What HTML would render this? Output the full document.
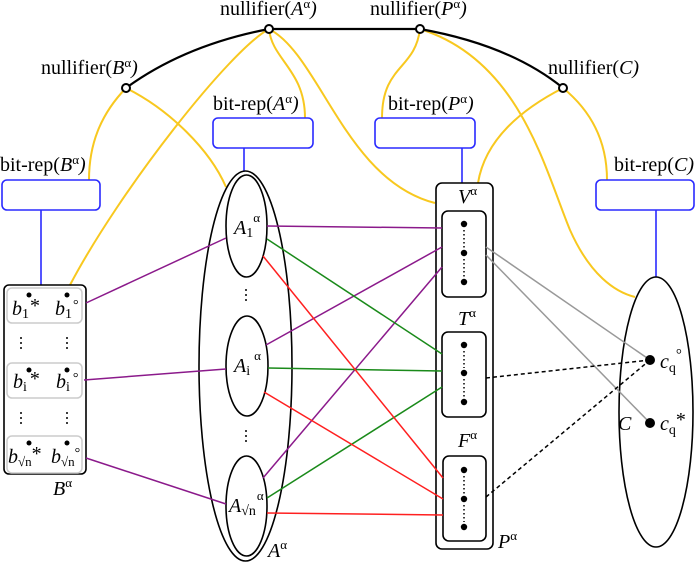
<!DOCTYPE html>
<html><head><meta charset="utf-8"><style>
html,body{margin:0;padding:0;background:#fff;}
svg{display:block;}
text{font-family:"Liberation Serif",serif;font-size:20px;fill:#000;}
.i{font-style:italic;}
</style></head><body>
<svg width="696" height="562" viewBox="0 0 696 562" xmlns="http://www.w3.org/2000/svg">
<!-- yellow curves -->
<g fill="none" stroke="#f8c81f" stroke-width="2">
<path d="M126,88 C100,115 89,145 89,180"/>
<path d="M126,88 C170,110 210,150 226,187"/>
<path d="M269,29 C230,50 120,190 70,285"/>
<path d="M269,29 C272,60 305,70 305,118"/>
<path d="M269,29 C320,55 345,180 435,203"/>
<path d="M420,29 C415,70 382,65 382,118"/>
<path d="M420,29 C520,60 545,170 570,230 C590,275 615,292 635,297"/>
<path d="M563,88 C590,110 607,140 607,180"/>
<path d="M563,88 C520,110 485,140 478,183"/>
</g>
<!-- black top arcs -->
<g fill="none" stroke="#000" stroke-width="2.2">
<path d="M126,88 Q185,45 269,29"/>
<path d="M269,29 L420,29"/>
<path d="M420,29 Q510,45 563,88"/>
</g>
<g fill="#fff" stroke="#000" stroke-width="2">
<circle cx="126" cy="88" r="4"/>
<circle cx="269" cy="29" r="4"/>
<circle cx="420" cy="29" r="4"/>
<circle cx="563" cy="88" r="4"/>
</g>
<!-- top labels -->
<text x="220" y="15">nullifier(<tspan class="i">A</tspan><tspan font-size="13" dy="-7">α</tspan><tspan dy="7" class="i">)</tspan></text>
<text x="41" y="74">nullifier(<tspan class="i">B</tspan><tspan font-size="13" dy="-7">α</tspan><tspan dy="7" class="i">)</tspan></text>
<text x="370" y="15">nullifier(<tspan class="i">P</tspan><tspan font-size="13" dy="-7">α</tspan><tspan dy="7" class="i">)</tspan></text>
<text x="548" y="74">nullifier(<tspan class="i">C)</tspan></text>
<text x="213" y="110">bit-rep(<tspan class="i">A</tspan><tspan font-size="13" dy="-7">α</tspan><tspan dy="7" class="i">)</tspan></text>
<text x="388" y="110">bit-rep(<tspan class="i">P</tspan><tspan font-size="13" dy="-7">α</tspan><tspan dy="7" class="i">)</tspan></text>
<text x="0" y="171">bit-rep(<tspan class="i">B</tspan><tspan font-size="13" dy="-7">α</tspan><tspan dy="7" class="i">)</tspan></text>
<text x="614" y="171">bit-rep(<tspan class="i">C)</tspan></text>
<!-- blue boxes -->
<g fill="#fff" stroke="#2a2aff" stroke-width="1.6">
<rect x="213" y="118" width="100" height="30" rx="5"/>
<rect x="375" y="118" width="100" height="30" rx="5"/>
<rect x="2" y="180" width="98" height="30" rx="5"/>
<rect x="596" y="180" width="98" height="30" rx="5"/>
</g>
<g stroke="#2a2aff" stroke-width="1.6">
<line x1="244" y1="148" x2="244" y2="171"/>
<line x1="462" y1="148" x2="462" y2="183"/>
<line x1="41" y1="210" x2="41" y2="285"/>
<line x1="656" y1="210" x2="656" y2="277"/>
</g>
<!-- A alpha ellipses -->
<g fill="none" stroke="#000" stroke-width="1.6">
<ellipse cx="245.5" cy="366" rx="46.5" ry="195"/>
<ellipse cx="246.5" cy="226" rx="20.5" ry="51"/>
<ellipse cx="247" cy="366" rx="21" ry="50"/>
<ellipse cx="246.5" cy="506" rx="20.5" ry="50"/>
</g>
<g fill="#000">
<circle cx="246" cy="290" r="1"/><circle cx="246" cy="295" r="1"/><circle cx="246" cy="300" r="1"/>
<circle cx="246" cy="431" r="1"/><circle cx="246" cy="436" r="1"/><circle cx="246" cy="441" r="1"/>
</g>
<text x="234" y="234" class="i">A<tspan font-size="14" font-style="normal" dy="3">1</tspan><tspan font-size="13" font-style="normal" dy="-15">α</tspan></text>
<text x="234" y="372" class="i">A<tspan font-size="14" font-style="normal" dy="3">i</tspan><tspan font-size="13" font-style="normal" dy="-15" dx="4">α</tspan></text>
<text x="229" y="512" class="i">A<tspan font-size="14" font-style="normal" dy="3">√n</tspan><tspan font-size="13" font-style="normal" dy="-15" dx="1">α</tspan></text>
<text x="268" y="557" class="i">A<tspan font-size="13" font-style="normal" dy="-8">α</tspan></text>
<!-- P alpha -->
<g fill="#fff" stroke="#000" stroke-width="1.6">
<rect x="436" y="183" width="57" height="366" rx="6"/>
<rect x="442" y="211" width="44" height="86" rx="6"/>
<rect x="442" y="332" width="44" height="85" rx="6"/>
<rect x="443" y="456" width="43" height="85" rx="6"/>
</g>
<g fill="#000">
<circle cx="464" cy="224" r="3.2"/><circle cx="464" cy="253" r="3.2"/><circle cx="464" cy="282" r="3.2"/>
<circle cx="464" cy="345" r="3.2"/><circle cx="464" cy="373" r="3.2"/><circle cx="464" cy="402" r="3.2"/>
<circle cx="464" cy="470" r="3.2"/><circle cx="464" cy="499" r="3.2"/><circle cx="464" cy="527" r="3.2"/>
</g>
<g stroke="#000" stroke-width="1.5" stroke-dasharray="1.5,2.5">
<line x1="464" y1="230" x2="464" y2="248"/><line x1="464" y1="259" x2="464" y2="277"/>
<line x1="464" y1="351" x2="464" y2="368"/><line x1="464" y1="379" x2="464" y2="397"/>
<line x1="464" y1="476" x2="464" y2="494"/><line x1="464" y1="505" x2="464" y2="522"/>
</g>
<text x="458" y="203" class="i">V<tspan font-size="13" font-style="normal" dy="-8">α</tspan></text>
<text x="458" y="325" class="i">T<tspan font-size="13" font-style="normal" dy="-8">α</tspan></text>
<text x="458" y="447" class="i">F<tspan font-size="13" font-style="normal" dy="-8">α</tspan></text>
<text x="498" y="548" class="i">P<tspan font-size="13" font-style="normal" dy="-8">α</tspan></text>
<!-- B alpha -->
<rect x="4" y="285" width="82" height="189" rx="5" fill="#fff" stroke="#000" stroke-width="1.6"/>
<g fill="#fff" stroke="#cccccc" stroke-width="1.5">
<rect x="7" y="288" width="75" height="35" rx="5"/>
<rect x="7" y="363" width="75" height="35" rx="5"/>
<rect x="7" y="436" width="75" height="37" rx="5"/>
</g>
<g fill="#000">
<circle cx="29" cy="295" r="2.5"/><circle cx="67" cy="295" r="2.5"/>
<circle cx="29" cy="370" r="2.5"/><circle cx="67" cy="370" r="2.5"/>
<circle cx="29" cy="443" r="2.5"/><circle cx="67" cy="443" r="2.5"/>
<circle cx="21" cy="338" r="1"/><circle cx="21" cy="343" r="1"/><circle cx="21" cy="348" r="1"/>
<circle cx="67" cy="338" r="1"/><circle cx="67" cy="343" r="1"/><circle cx="67" cy="348" r="1"/>
<circle cx="21" cy="413" r="1"/><circle cx="21" cy="418" r="1"/><circle cx="21" cy="423" r="1"/>
<circle cx="67" cy="413" r="1"/><circle cx="67" cy="418" r="1"/><circle cx="67" cy="423" r="1"/>
</g>
<text x="12" y="315" class="i">b<tspan font-size="14" font-style="normal" dy="3">1</tspan><tspan font-style="normal" dy="-6" dx="1">*</tspan></text>
<text x="55" y="315" class="i">b<tspan font-size="14" font-style="normal" dy="3">1</tspan><tspan font-size="14" font-style="normal" dy="-9" dx="1">°</tspan></text>
<text x="13" y="388" class="i">b<tspan font-size="14" font-style="normal" dy="3">i</tspan><tspan font-style="normal" dy="-6" dx="3">*</tspan></text>
<text x="56" y="388" class="i">b<tspan font-size="14" font-style="normal" dy="3">i</tspan><tspan font-size="14" font-style="normal" dy="-9" dx="3">°</tspan></text>
<text x="8" y="463" class="i">b<tspan font-size="13" font-style="normal" dy="3">√n</tspan><tspan font-style="normal" dy="-6">*</tspan></text>
<text x="51" y="463" class="i">b<tspan font-size="13" font-style="normal" dy="3">√n</tspan><tspan font-size="14" font-style="normal" dy="-9">°</tspan></text>
<text x="53" y="495" class="i">B<tspan font-size="13" font-style="normal" dy="-8">α</tspan></text>
<!-- C -->
<ellipse cx="656" cy="412" rx="37" ry="135" fill="none" stroke="#000" stroke-width="1.6"/>
<text x="618" y="430" class="i">C</text>
<!-- connectors -->
<g stroke="#8b1a8b" stroke-width="1.5">
<line x1="86" y1="303" x2="226" y2="238"/>
<line x1="84" y1="380" x2="226" y2="369"/>
<line x1="86" y1="458" x2="226" y2="504"/>
<line x1="267" y1="226" x2="442" y2="228"/>
<line x1="266" y1="345" x2="442" y2="247"/>
<line x1="263" y1="478" x2="442" y2="267"/>
</g>
<g stroke="#1a8a1a" stroke-width="1.5">
<line x1="267" y1="239" x2="442" y2="354"/>
<line x1="268" y1="368" x2="442" y2="371"/>
<line x1="267" y1="498" x2="442" y2="387"/>
</g>
<g stroke="#ff2020" stroke-width="1.5">
<line x1="263" y1="256" x2="443" y2="478"/>
<line x1="264" y1="392" x2="443" y2="499"/>
<line x1="267" y1="513" x2="443" y2="515"/>
</g>
<g stroke="#999" stroke-width="1.5">
<line x1="486" y1="247" x2="650" y2="360"/>
<line x1="486" y1="255" x2="650" y2="423"/>
</g>
<g stroke="#000" stroke-width="1.5" stroke-dasharray="4,3">
<line x1="486" y1="378" x2="650" y2="360"/>
<line x1="486" y1="497" x2="650" y2="360"/>
</g>
<circle cx="650" cy="360" r="5" fill="#000"/>
<circle cx="650" cy="423" r="5" fill="#000"/>
<text x="660" y="368" class="i">c<tspan font-size="14" font-style="normal" dy="4">q</tspan><tspan font-size="15" font-style="normal" dy="-13">°</tspan></text>
<text x="660" y="430" class="i">c<tspan font-size="14" font-style="normal" dy="4">q</tspan><tspan font-style="normal" dy="-8">*</tspan></text>
</svg>
</body></html>
